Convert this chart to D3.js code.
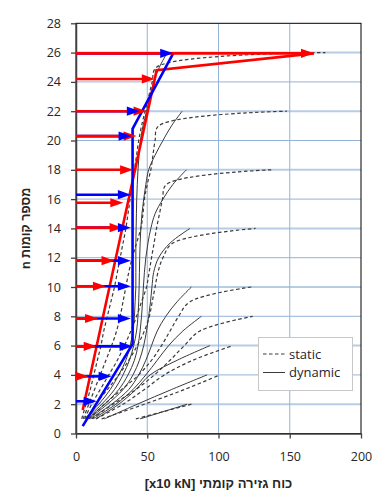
<!DOCTYPE html>
<html><head><meta charset="utf-8">
<script src="https://cdn.jsdelivr.net/npm/d3@7/dist/d3.min.js"></script>
<style>body{margin:0;background:#fff}svg{display:block}</style>
</head><body>
<svg id="c" width="391" height="503"></svg>
<script>
// ---- data ----
const xTicks = [0, 50, 100, 150, 200];
const yTicks = [0, 2, 4, 6, 8, 10, 12, 14, 16, 18, 20, 22, 24, 26, 28];
const buildingHeights = [2, 4, 6, 8, 10, 14, 18, 22, 26];
// static (dashed) shear per floor, floors 1..n
const static2 = [42, 81];
const static4 = [18, 48, 76, 101];
const static6 = [14, 33, 48, 62, 82, 110];
const static8 = [11, 26, 42, 55, 66, 76, 87, 124];
const static10 = [9, 20, 32, 44, 53, 60, 66, 72, 80, 123];
const static14 = [7, 14, 22, 30, 37, 43, 48, 51.5, 53.5, 55.5, 57.5, 61, 68, 126];
const static18 = [6, 11, 17, 23, 29, 34, 38.5, 42.5, 46, 49.5, 51.3, 53, 54.8, 56.5, 58.6, 60.7, 63.5, 137];
const static22 = [5, 9, 13, 17, 21, 25, 28.5, 31, 33, 35, 37, 39.5, 42.5, 45.5, 47, 48, 50, 52.5, 54, 55.5, 58, 148];
const static26 = [4, 7, 10, 12.5, 15, 17.5, 19.5, 22, 24.5, 27, 29, 31, 33, 35, 36.5, 38, 39.5, 41, 42.5, 44, 46, 48.5, 51, 53.5, 56.5, 175];
// dynamic (solid) shear per floor
const dynamic2 = [45, 78];
const dynamic4 = [20, 43, 67, 92];
const dynamic6 = [14, 30, 42, 52, 71, 94];
const dynamic8 = [12, 28, 40, 49, 57, 65, 75, 88];
const dynamic10 = [10, 25, 37, 44, 49, 53, 57, 63, 71, 81];
const dynamic14 = [9, 22, 33, 40, 44.5, 47.5, 49.5, 51, 52.3, 53.3, 54.5, 58, 66, 80];
const dynamic18 = [8, 20, 30, 36.5, 41, 43.5, 45, 46, 46.7, 47.3, 48, 49, 50.5, 52.5, 55.5, 61, 68, 77.5];
const dynamic22 = [7, 18, 27, 33, 37.5, 40.5, 42.5, 43.5, 44, 44.3, 44.5, 44.7, 45, 45.5, 46.3, 47.5, 49, 51, 55.5, 61, 67, 74.5];
const dynamic26 = [6, 16, 24, 30, 35, 38, 40, 41, 41.5, 42, 42, 42, 42, 42.2, 42.4, 42.6, 43, 43.5, 44.2, 45.2, 47, 49.5, 52, 54.5, 58.5, 64];
// red (code static) envelope and its force arrows
const redLineV = [4.7, 55.3, 56.5, 167];
const redLineF = [1.6, 24.2, 24.8, 25.95];
const redArrowF = [3.9, 5.95, 7.85, 10.05, 11.8, 14.05, 15.75, 18.0, 20.3, 22.0, 24.2, 25.95];
const redArrowV = [8.6, 14.5, 15.5, 21, 27, 32.7, 33.2, 40.1, 42.5, 49.5, 55.3, 167];
// blue (design dynamic) envelope and its force arrows
const blueLineV = [4.7, 39.7, 39.7, 68.2];
const blueLineF = [0.5, 6.1, 20.8, 25.95];
const blueArrowF = [2.2, 3.9, 5.95, 7.85, 10.05, 11.8, 14.05, 16.3, 20.3, 22.0, 25.95];
const blueArrowV = [14.5, 25, 39.7, 38.5, 38.5, 38.5, 38.5, 38.5, 39, 44.8, 68.2];
const legendLabels = ["static", "dynamic"];
const xTitle = "כוח גזירה קומתי [x10 kN]";
const yTitle = "מספר קומות n";

// ---- drawing ----
const statics = [static2, static4, static6, static8, static10, static14, static18, static22, static26];
const dynamics = [dynamic2, dynamic4, dynamic6, dynamic8, dynamic10, dynamic14, dynamic18, dynamic22, dynamic26];

const svg = d3.select("#c");
const X = d3.scaleLinear().domain([0, 200]).range([76, 361]);
const Y = d3.scaleLinear().domain([0, 28]).range([433.5, 23.3]);

// gridlines
const grid = svg.append("g");
grid.selectAll("line.h").data(yTicks.filter(v => v > 0 && v < 28)).join("line")
  .attr("x1", X(0)).attr("x2", X(200))
  .attr("y1", d => Y(d)).attr("y2", d => Y(d))
  .attr("stroke", d => d % 4 === 2 ? "#b8cce4" : "#95b3d7")
  .attr("stroke-width", d => d % 4 === 2 ? 2 : 1);
grid.selectAll("line.v").data(xTicks.filter(v => v > 0 && v < 200)).join("line")
  .attr("y1", Y(0)).attr("y2", Y(28))
  .attr("x1", d => X(d)).attr("x2", d => X(d))
  .attr("stroke", "#95b3d7").attr("stroke-width", 1);

// frame
svg.append("rect").attr("x", X(0)).attr("y", Y(28))
  .attr("width", X(200) - X(0)).attr("height", Y(0) - Y(28))
  .attr("fill", "none").attr("stroke", "#000").attr("stroke-width", 1);

// axes
const yAxis = svg.append("g").attr("transform", `translate(${X(0)},0)`)
  .call(d3.axisLeft(Y).tickValues(yTicks).tickSize(5).tickPadding(10).tickSizeOuter(0));
const xAxis = svg.append("g").attr("transform", `translate(0,${Y(0)})`)
  .call(d3.axisBottom(X).tickValues(xTicks).tickSize(5).tickPadding(14).tickSizeOuter(0));
[xAxis, yAxis].forEach(g => {
  g.select(".domain").attr("stroke", "#404040").attr("stroke-width", 1.5);
  g.selectAll(".tick line").attr("stroke", "#404040").attr("stroke-width", 1.3);
  g.selectAll("text").attr("font-family", "'Open Sans', sans-serif").attr("font-size", 12.5).attr("fill", "#262626");
});

// black curves
const lineGen = d3.line().x(d => X(d[0])).y(d => Y(d[1])).curve(d3.curveCatmullRom.alpha(0.5));
const curves = svg.append("g").attr("fill", "none");
statics.forEach(arr => {
  curves.append("path").attr("d", lineGen(arr.map((v, i) => [v, i + 1])))
    .attr("stroke", "#3a3a3a").attr("stroke-width", 1.2).attr("stroke-dasharray", "3.5,2.5");
});
dynamics.forEach(arr => {
  curves.append("path").attr("d", lineGen(arr.map((v, i) => [v, i + 1])))
    .attr("stroke", "#3a3a3a").attr("stroke-width", 1);
});

// envelopes
const poly = d3.line().x(d => X(d[0])).y(d => Y(d[1]));
svg.append("path").attr("d", poly(redLineV.map((v, i) => [v, redLineF[i]])))
  .attr("fill", "none").attr("stroke", "#ff0000").attr("stroke-width", 2.6);
svg.append("path").attr("d", poly(blueLineV.map((v, i) => [v, blueLineF[i]])))
  .attr("fill", "none").attr("stroke", "#0000ff").attr("stroke-width", 2.6);

// arrows
const headL = 13, headW = 4.6;
function shafts(F, V, color) {
  svg.append("g").selectAll("line").data(F).join("line")
    .attr("x1", X(0)).attr("x2", (d, i) => X(V[i]) - headL + 1)
    .attr("y1", d => Y(d)).attr("y2", d => Y(d))
    .attr("stroke", color).attr("stroke-width", 2.6);
}
function heads(F, V, color) {
  svg.append("g").selectAll("path").data(F).join("path")
    .attr("d", (d, i) => {
      const tx = X(V[i]), ty = Y(d);
      return `M${tx},${ty}L${tx - headL},${ty - headW}L${tx - headL},${ty + headW}Z`;
    })
    .attr("fill", color);
}
shafts(blueArrowF, blueArrowV, "#0000ff");
shafts(redArrowF, redArrowV, "#ff0000");
heads(redArrowF, redArrowV, "#ff0000");
heads(blueArrowF, blueArrowV, "#0000ff");

// titles
svg.append("text").attr("x", (X(0) + X(200)) / 2).attr("y", 488)
  .attr("text-anchor", "middle").attr("direction", "rtl")
  .attr("font-family", "'Liberation Sans', Arial, sans-serif").attr("font-weight", "bold")
  .attr("font-size", 13).attr("fill", "#262626").text(xTitle);
svg.append("text").attr("transform", `translate(30,${(Y(0) + Y(28)) / 2}) rotate(-90)`)
  .attr("text-anchor", "middle").attr("direction", "rtl")
  .attr("font-family", "'Liberation Sans', Arial, sans-serif").attr("font-weight", "bold")
  .attr("font-size", 12.5).attr("fill", "#262626").text(yTitle);

// legend
const lg = svg.append("g");
lg.append("rect").attr("x", 258.5).attr("y", 337.5).attr("width", 94).attr("height", 53)
  .attr("fill", "#fff").attr("stroke", "#c8c8c8").attr("stroke-width", 1);
legendLabels.forEach((lab, i) => {
  const yy = 354 + i * 18.5;
  lg.append("line").attr("x1", 263).attr("x2", 285).attr("y1", yy).attr("y2", yy)
    .attr("stroke", "#3a3a3a").attr("stroke-width", i === 0 ? 1.2 : 1)
    .attr("stroke-dasharray", i === 0 ? "3.5,2.5" : null);
  lg.append("text").attr("x", 289).attr("y", yy + 4.5)
    .attr("font-family", "'Open Sans', sans-serif").attr("font-size", 13)
    .attr("fill", "#1f2430").text(lab);
});
</script>
</body></html>
